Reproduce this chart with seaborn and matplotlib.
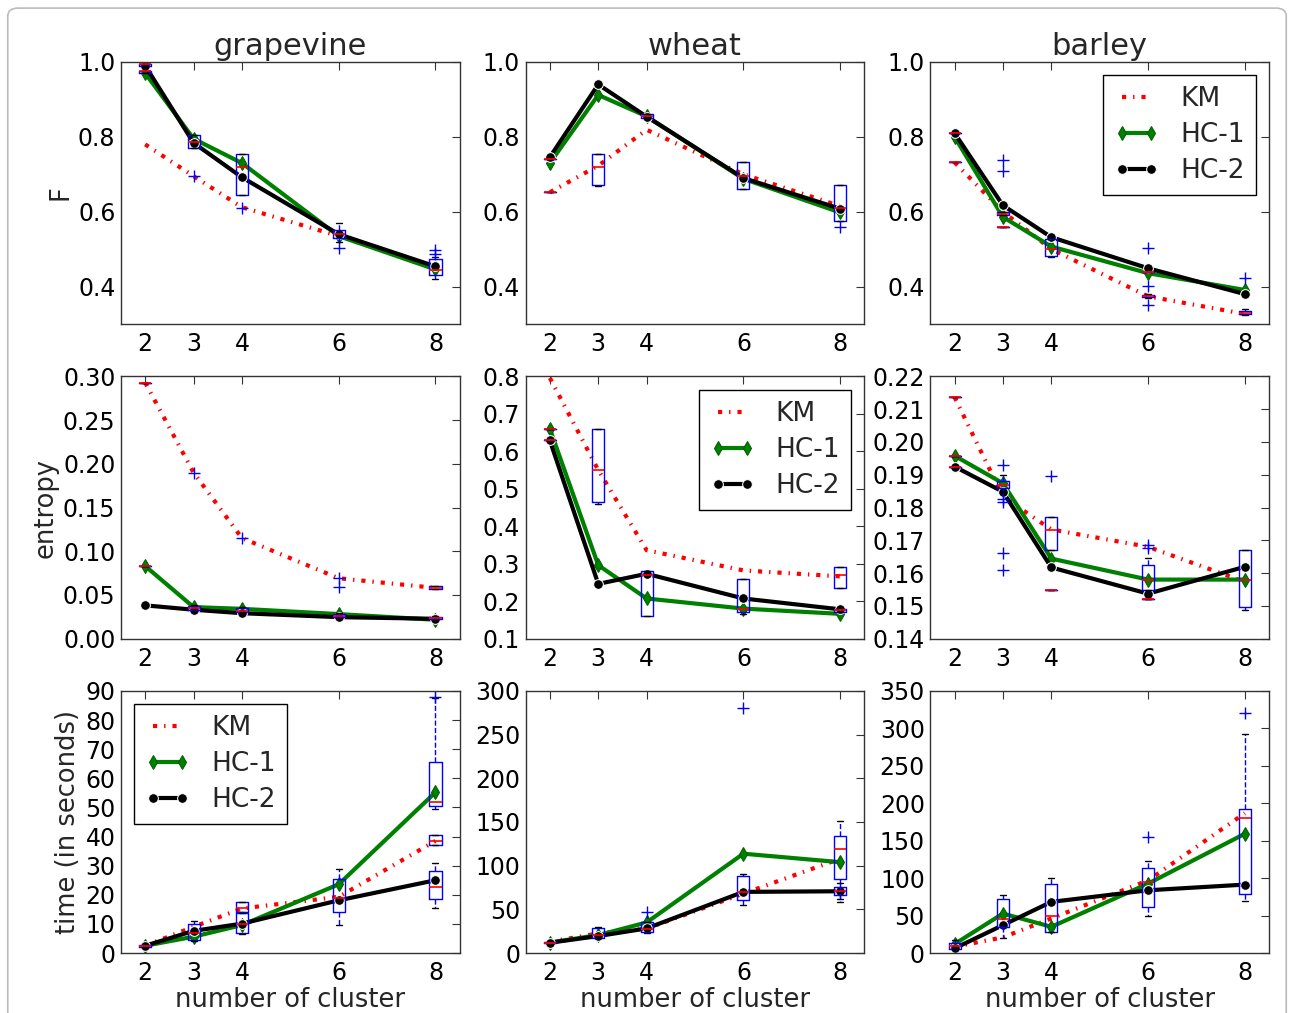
# ==============================================================================
# IMPORTS
# ==============================================================================
import numpy as np
import pandas as pd
import matplotlib
matplotlib.use('Agg')
import matplotlib.pyplot as plt
import seaborn as sns
from matplotlib.patches import FancyBboxPatch

# ==============================================================================
# I. DATOS
# ==============================================================================
clusters = [2, 3, 4, 6, 8]
cultivos = ['grapevine', 'wheat', 'barley']

# --- Fila 1: F ---
f_grapevine_km = [0.78, 0.695, 0.612, 0.535, 0.45]
f_grapevine_hc1 = [0.97, 0.795, 0.73, 0.535, 0.446]
f_grapevine_hc2 = [0.99, 0.784, 0.692, 0.54, 0.454]

f_wheat_km = [0.652, 0.723, 0.819, 0.70, 0.615]
f_wheat_hc1 = [0.73, 0.912, 0.855, 0.688, 0.598]
f_wheat_hc2 = [0.746, 0.94, 0.854, 0.69, 0.608]

f_barley_km = [0.732, 0.60, 0.50, 0.374, 0.327]
f_barley_hc1 = [0.80, 0.586, 0.507, 0.436, 0.391]
f_barley_hc2 = [0.81, 0.617, 0.532, 0.449, 0.38]

# --- Fila 2: entropy ---
ent_grapevine_km = [0.293, 0.19, 0.115, 0.069, 0.058]
ent_grapevine_hc1 = [0.083, 0.036, 0.034, 0.028, 0.0215]
ent_grapevine_hc2 = [0.038, 0.033, 0.029, 0.0245, 0.0226]

ent_wheat_km = [0.796, 0.55, 0.336, 0.282, 0.266]
ent_wheat_hc1 = [0.66, 0.296, 0.207, 0.18, 0.166]
ent_wheat_hc2 = [0.629, 0.246, 0.273, 0.207, 0.178]

ent_barley_km = [0.2137, 0.1833, 0.1733, 0.168, 0.1573]
ent_barley_hc1 = [0.1958, 0.1874, 0.1644, 0.158, 0.158]
ent_barley_hc2 = [0.1925, 0.1848, 0.1617, 0.1537, 0.1619]

# --- Fila 3: tiempo ---
time_grapevine_km = [2.5, 9.0, 15.3, 19.3, 38.5]
time_grapevine_hc1 = [2.5, 5.6, 9.6, 23.6, 55.2]
time_grapevine_hc2 = [2.5, 7.6, 10.1, 18.1, 25.0]

time_wheat_km = [12.9, 22.4, 28.0, 68.0, 108.0]
time_wheat_hc1 = [12.0, 20.5, 35.0, 113.7, 104.0]
time_wheat_hc2 = [11.8, 19.4, 28.2, 70.0, 70.7]

time_barley_km = [8.4, 20.9, 46.2, 97.0, 186.7]
time_barley_hc1 = [12.0, 52.7, 35.0, 92.7, 159.3]
time_barley_hc2 = [6.2, 37.3, 68.3, 83.8, 91.4]

# Cajas: (k, bigote_inf, q1, mediana, q3, bigote_sup, atipicos)
f_grapevine_boxes = [
    (2, 0.97, 0.97, 0.975, 0.975, 0.975, []),
    (2, 0.99, 0.99, 0.995, 0.995, 0.995, []),
    (3, 0.77, 0.77, 0.785, 0.805, 0.805, [0.695]),
    (4, 0.645, 0.645, 0.72, 0.755, 0.755, [0.61]),
    (6, 0.52, 0.53, 0.54, 0.55, 0.57, [0.502]),
    (8, 0.42, 0.43, 0.445, 0.475, 0.48, [0.486, 0.497]),
]
f_wheat_boxes = [
    (2, 0.74, 0.74, 0.74, 0.74, 0.74, []),
    (2, 0.652, 0.652, 0.652, 0.652, 0.652, []),
    (3, 0.67, 0.672, 0.72, 0.755, 0.755, []),
    (4, 0.85, 0.85, 0.855, 0.86, 0.86, []),
    (6, 0.66, 0.662, 0.695, 0.732, 0.732, []),
    (8, 0.575, 0.575, 0.61, 0.672, 0.672, [0.558]),
]
f_barley_boxes = [
    (2, 0.81, 0.81, 0.81, 0.81, 0.81, []),
    (2, 0.732, 0.732, 0.732, 0.732, 0.732, []),
    (3, 0.59, 0.59, 0.595, 0.60, 0.60, [0.709, 0.739]),
    (3, 0.558, 0.558, 0.558, 0.558, 0.558, []),
    (4, 0.48, 0.481, 0.50, 0.526, 0.53, []),
    (6, 0.37, 0.372, 0.375, 0.378, 0.38, [0.35, 0.402, 0.502]),
    (6, 0.44, 0.44, 0.44, 0.44, 0.44, []),
    (8, 0.325, 0.326, 0.33, 0.334, 0.34, [0.424]),
]
ent_grapevine_boxes = [
    (2, 0.293, 0.293, 0.293, 0.293, 0.293, []),
    (2, 0.083, 0.083, 0.083, 0.083, 0.083, []),
    (3, 0.032, 0.033, 0.035, 0.037, 0.038, [0.19]),
    (4, 0.03, 0.03, 0.032, 0.035, 0.036, [0.115]),
    (6, 0.024, 0.025, 0.026, 0.028, 0.029, [0.059, 0.069]),
    (8, 0.057, 0.057, 0.058, 0.06, 0.06, []),
    (8, 0.021, 0.022, 0.023, 0.025, 0.026, []),
]
ent_wheat_boxes = [
    (2, 0.66, 0.66, 0.66, 0.66, 0.66, []),
    (2, 0.63, 0.63, 0.63, 0.63, 0.63, []),
    (3, 0.46, 0.465, 0.55, 0.66, 0.66, []),
    (4, 0.16, 0.16, 0.27, 0.28, 0.28, []),
    (6, 0.165, 0.17, 0.18, 0.26, 0.26, []),
    (8, 0.235, 0.235, 0.27, 0.29, 0.29, []),
    (8, 0.17, 0.172, 0.175, 0.178, 0.18, []),
]
ent_barley_boxes = [
    (2, 0.2137, 0.2137, 0.2137, 0.2137, 0.2137, []),
    (2, 0.1958, 0.1958, 0.1958, 0.1958, 0.1958, []),
    (2, 0.1925, 0.1925, 0.1925, 0.1925, 0.1925, []),
    (3, 0.185, 0.186, 0.187, 0.188, 0.19, [0.161, 0.166, 0.1818, 0.1825, 0.193]),
    (4, 0.167, 0.167, 0.173, 0.177, 0.177, [0.1895]),
    (4, 0.1547, 0.1547, 0.1547, 0.1547, 0.1547, []),
    (6, 0.1547, 0.1547, 0.158, 0.1625, 0.1645, [0.1675, 0.1686]),
    (6, 0.152, 0.152, 0.152, 0.152, 0.152, []),
    (8, 0.1486, 0.1495, 0.158, 0.167, 0.167, []),
]
time_grapevine_boxes = [
    (2, 2.0, 2.2, 2.5, 2.8, 3.0, []),
    (3, 4.0, 4.5, 7.0, 10.0, 11.0, []),
    (4, 6.5, 7.0, 10.0, 13.6, 14.0, []),
    (4, 13.6, 14.0, 15.5, 17.5, 17.5, []),
    (6, 9.6, 14.2, 19.0, 25.3, 28.7, []),
    (8, 49.6, 50.5, 52.0, 65.5, 87.7, [88.0]),
    (8, 37.0, 37.0, 38.5, 40.4, 40.4, []),
    (8, 15.3, 18.7, 22.8, 28.2, 30.8, []),
]
time_wheat_boxes = [
    (2, 10.0, 11.0, 12.0, 13.0, 14.0, []),
    (3, 17.0, 17.5, 21.0, 29.0, 30.0, []),
    (4, 22.4, 24.0, 28.0, 35.7, 36.0, [47.0]),
    (6, 55.0, 60.5, 70.0, 87.8, 90.0, [281.0]),
    (8, 58.5, 85.2, 119.5, 133.4, 151.0, []),
    (8, 62.0, 66.0, 71.0, 76.0, 80.0, []),
]
time_barley_boxes = [
    (2, 5.0, 6.0, 9.0, 13.0, 17.0, []),
    (3, 20.0, 35.0, 45.0, 72.8, 78.0, []),
    (4, 28.4, 28.4, 50.0, 91.8, 100.7, []),
    (6, 50.0, 61.6, 95.0, 114.0, 123.0, [154.8]),
    (8, 69.6, 79.4, 180.0, 192.6, 292.0, [321.0]),
]

# ==============================================================================
# II. ESTILO
# ==============================================================================
sns.set_style('white')
plt.rcParams['font.family'] = ['DejaVu Sans']
plt.rcParams.update({
    'xtick.direction': 'in', 'ytick.direction': 'in',
    'xtick.top': True, 'ytick.right': True,
    'xtick.major.size': 6, 'ytick.major.size': 6,
    'xtick.major.width': 0.8, 'ytick.major.width': 0.8,
    'axes.edgecolor': '#333333', 'axes.linewidth': 1.0,
    'lines.scale_dashes': False,
})

# ==============================================================================
# III. FUNCIONES
# ==============================================================================
def dibujar_panel(ax, km, hc1, hc2, cajas):
    # 1. Líneas de los tres métodos
    sns.lineplot(x=clusters, y=km, ax=ax, color='red', lw=3,
                 linestyle=(0, (3, 5, 1, 5)), label='KM')
    sns.lineplot(x=clusters, y=hc1, ax=ax, color='#008000', lw=3,
                 marker='d', markersize=7, markeredgecolor='#006000', label='HC-1')
    sns.lineplot(x=clusters, y=hc2, ax=ax, color='black', lw=3,
                 marker='o', markersize=7, label='HC-2')

    # 2. Cajas (estadísticos)
    stats = [dict(whislo=lo, q1=q1, med=m, q3=q3, whishi=hi, fliers=fl)
             for (_, lo, q1, m, q3, hi, fl) in cajas]
    pos = [c[0] for c in cajas]
    ax.bxp(stats, positions=pos, widths=0.25, manage_ticks=False,
           boxprops=dict(color='blue', lw=1),
           medianprops=dict(color='red', lw=1.2),
           whiskerprops=dict(color='blue', lw=1, linestyle='--'),
           capprops=dict(color='black', lw=1),
           flierprops=dict(marker='+', markeredgecolor='blue', markersize=8,
                           linestyle='none'))


paneles = [
    # fila 0
    (f_grapevine_km, f_grapevine_hc1, f_grapevine_hc2, f_grapevine_boxes,
     (0.3, 1.0), np.arange(0.4, 1.01, 0.2), '{:.1f}', None),
    (f_wheat_km, f_wheat_hc1, f_wheat_hc2, f_wheat_boxes,
     (0.3, 1.0), np.arange(0.4, 1.01, 0.2), '{:.1f}', None),
    (f_barley_km, f_barley_hc1, f_barley_hc2, f_barley_boxes,
     (0.3, 1.0), np.arange(0.4, 1.01, 0.2), '{:.1f}', 'upper right'),
    # fila 1
    (ent_grapevine_km, ent_grapevine_hc1, ent_grapevine_hc2, ent_grapevine_boxes,
     (0.0, 0.30), np.arange(0, 0.301, 0.05), '{:.2f}', None),
    (ent_wheat_km, ent_wheat_hc1, ent_wheat_hc2, ent_wheat_boxes,
     (0.1, 0.8), np.arange(0.1, 0.801, 0.1), '{:.1f}', 'upper right'),
    (ent_barley_km, ent_barley_hc1, ent_barley_hc2, ent_barley_boxes,
     (0.14, 0.22), np.arange(0.14, 0.2201, 0.01), '{:.2f}', None),
    # fila 2
    (time_grapevine_km, time_grapevine_hc1, time_grapevine_hc2, time_grapevine_boxes,
     (0, 90), np.arange(0, 91, 10), '{:.0f}', 'upper left'),
    (time_wheat_km, time_wheat_hc1, time_wheat_hc2, time_wheat_boxes,
     (0, 300), np.arange(0, 301, 50), '{:.0f}', None),
    (time_barley_km, time_barley_hc1, time_barley_hc2, time_barley_boxes,
     (0, 350), np.arange(0, 351, 50), '{:.0f}', None),
]
ylabels = ['F', 'entropy', 'time (in seconds)']

# ==============================================================================
# IV. FIGURA
# ==============================================================================
fig, axes = plt.subplots(3, 3, figsize=(12.94, 10.13), dpi=100)
fig.subplots_adjust(left=0.0935, right=0.9807, top=0.9388, bottom=0.0592,
                    wspace=0.195, hspace=0.2)

for i, (km, hc1, hc2, cajas, ylim, yticks, fmt, leg) in enumerate(paneles):
    fila, col = divmod(i, 3)
    ax = axes[fila, col]
    dibujar_panel(ax, km, hc1, hc2, cajas)

    ax.set_xlim(1.5, 8.5)
    ax.set_xticks(clusters)
    ax.set_xticklabels([str(c) for c in clusters])
    ax.set_ylim(*ylim)
    ax.set_yticks(yticks)
    ax.set_yticklabels([fmt.format(v) for v in yticks])
    ax.tick_params(axis='both', labelsize=17, colors='#333333', labelcolor='black')
    ax.tick_params(axis='x', pad=6)
    ax.tick_params(axis='y', pad=4)
    ax.set_xlabel('')
    ax.set_ylabel('')

    if fila == 0:
        ax.set_title(cultivos[col], fontsize=22, pad=5)
    if fila == 2:
        ax.set_xlabel('number of cluster', fontsize=18.5, labelpad=1)
    if col == 0:
        ax.set_ylabel(ylabels[fila], fontsize=18.5, labelpad=3)

    if leg:
        ax.legend(loc=leg, numpoints=2, fontsize=19, fancybox=False,
                  edgecolor='black', framealpha=1, handlelength=1.7,
                  handletextpad=0.8, labelspacing=0.38, borderpad=0.42)
    elif ax.get_legend() is not None:
        ax.get_legend().remove()

# Marco redondeado alrededor de la figura
marco = FancyBboxPatch((0.006, -0.02), 0.988, 1.012,
                       boxstyle='round,pad=0,rounding_size=0.008',
                       transform=fig.transFigure, fill=False,
                       edgecolor='#bbbbbb', lw=1.2)
fig.patches.append(marco)

fig.savefig('out.png', dpi=100)
